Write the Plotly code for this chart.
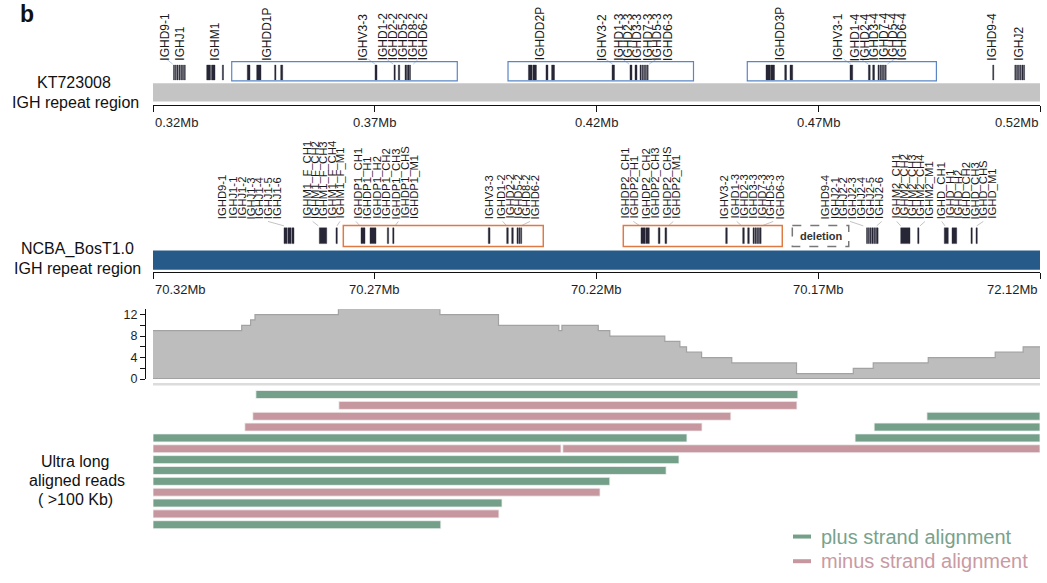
import plotly.graph_objects as go

W, H = 1047, 583
FONT = "Liberation Sans, Arial, Helvetica, sans-serif"

# ---------------- KT723008 IGH repeat region (Mb) ----------------
KT_RANGE = [0.32, 0.52]
KT_TICKS = [0.32, 0.37, 0.42, 0.47, 0.52]
KT_TICK_TEXT = ["0.32Mb", "0.37Mb", "0.42Mb", "0.47Mb", "0.52Mb"]
KT_GENES = [
    (0.32462, 0.32484), (0.32503, 0.32525), (0.32543, 0.32565), (0.32584, 0.32606),
    (0.32625, 0.32647), (0.32665, 0.32687), (0.32706, 0.32728),
    (0.33211, 0.33297), (0.33319, 0.33398), (0.33563, 0.33590),
    (0.34126, 0.34187), (0.34338, 0.34435), (0.34744, 0.34773), (0.34879, 0.34925),
    (0.37006, 0.37051),
    (0.37434, 0.37463), (0.37531, 0.37563), (0.37682, 0.37704), (0.37716, 0.37738),
    (0.37750, 0.37772), (0.37784, 0.37806),
    (0.40465, 0.40546), (0.40564, 0.40645), (0.40861, 0.40906), (0.40988, 0.41053),
    (0.42350, 0.42406),
    (0.42755, 0.42800), (0.42868, 0.42913), (0.42981, 0.43003), (0.43021, 0.43043),
    (0.43062, 0.43084), (0.43103, 0.43125), (0.43143, 0.43165),
    (0.45822, 0.45912), (0.45923, 0.46014), (0.46244, 0.46284), (0.46363, 0.46424),
    (0.47716, 0.47777),
    (0.48131, 0.48171), (0.48228, 0.48268), (0.48347, 0.48369), (0.48388, 0.48410),
    (0.48428, 0.48450), (0.48469, 0.48491), (0.48510, 0.48532),
    (0.50934, 0.50958),
    (0.51432, 0.51454), (0.51472, 0.51494), (0.51513, 0.51535), (0.51554, 0.51576),
    (0.51594, 0.51616), (0.51630, 0.51652),
]
KT_REPEAT_BOXES = [(0.33775, 0.38861), (0.40005, 0.44187), (0.45400, 0.49664)]
KT_LABELS = [
    "IGHD9-1", "IGHJ1", "IGHM1", "IGHDD1P", "IGHV3-3", "IGHD1-2", "IGHD2-2", "IGHD5-2",
    "IGHD8-2", "IGHD6-2", "IGHDD2P", "IGHV3-2", "IGHD1-3", "IGHD2-3", "IGHD3-3",
    "IGHD7-3", "IGHD5-3", "IGHD6-3", "IGHDD3P", "IGHV3-1", "IGHD1-4", "IGHD2-4",
    "IGHD3-4", "IGHD7-4", "IGHD5-4", "IGHD6-4", "IGHD9-4", "IGHJ2",
]
KT_LABEL_POS = [
    0.32271, 0.32609, 0.33398, 0.34564, 0.36728, 0.37179, 0.37405, 0.37630,
    0.37856, 0.38081, 0.40726, 0.42120, 0.42489, 0.42695, 0.42900,
    0.43145, 0.43366, 0.43596, 0.46138, 0.47450, 0.47817, 0.48041,
    0.48253, 0.48474, 0.48679, 0.48884, 0.50918, 0.51508,
]
KT_LEADERS = [
    (0.32309, 0.32444), (0.36855, 0.37006), (0.37269, 0.37418), (0.37982, 0.37869),
    (0.42203, 0.42365), (0.42595, 0.42735), (0.43351, 0.43186),
    (0.47572, 0.47736), (0.47964, 0.48131), (0.48719, 0.48557),
]

# ---------------- NCBA_BosT1.0 IGH repeat region (Mb, minus strand) ----------------
NC_RANGE = [70.32, 70.12]
NC_TICKS = [70.32, 70.27, 70.22, 70.17, 70.12]
NC_TICK_TEXT = ["70.32Mb", "70.27Mb", "70.22Mb", "70.17Mb", "72.12Mb"]
NC_GENES = [
    (70.29046, 70.28979), (70.28961, 70.28888), (70.28870, 70.28821),
    (70.28250, 70.28083), (70.27874, 70.27844),
    (70.27310, 70.27220), (70.27107, 70.26972), (70.26717, 70.26686), (70.26595, 70.26566),
    (70.24440, 70.24401),
    (70.24025, 70.23989), (70.23912, 70.23876), (70.23793, 70.23768), (70.23752, 70.23727),
    (70.23711, 70.23686),
    (70.20997, 70.20906), (70.20891, 70.20809), (70.20607, 70.20568), (70.20456, 70.20417),
    (70.19087, 70.19051),
    (70.18704, 70.18667), (70.18591, 70.18555), (70.18471, 70.18446), (70.18431, 70.18406),
    (70.18390, 70.18365), (70.18350, 70.18325), (70.18313, 70.18288),
    (70.15912, 70.15887), (70.15872, 70.15847), (70.15831, 70.15806), (70.15790, 70.15765),
    (70.15750, 70.15725), (70.15709, 70.15684), (70.15675, 70.15650),
    (70.15141, 70.14931), (70.14758, 70.14728),
    (70.14158, 70.14068), (70.13984, 70.13878), (70.13556, 70.13527), (70.13443, 70.13414),
]
NC_REPEAT_BOXES = [(70.27709, 70.23200), (70.21396, 70.17811)]
NC_DELETION = (70.17585, 70.16313)
NC_LABELS = [
    "IGHD9-1", "IGHJ1-1", "IGHJ1-2", "IGHJ1-3", "IGHJ1-4", "IGHJ1-5", "IGHJ1-6",
    "IGHM1_F_CH1", "IGHM1_F_CH2", "IGHM1_F_CH3", "IGHM1_F_CH4", "IGHM1_F_M1",
    "IGHDP1_CH1", "IGHDP1_H1", "IGHDP1_H2", "IGHDP1_CH2", "IGHDP1_CH3", "IGHDP1_CHS", "IGHDP1_M1",
    "IGHV3-3", "IGHD1-2", "IGHD2-2", "IGHD5-2", "IGHD8-2", "IGHD6-2",
    "IGHDP2_CH1", "IGHDP2_H1", "IGHDP2_CH2", "IGHDP2_CH3", "IGHDP2_CHS", "IGHDP2_M1",
    "IGHV3-2", "IGHD1-3", "IGHD2-3", "IGHD3-3", "IGHD7-3", "IGHD5-3", "IGHD6-3",
    "IGHD9-4", "IGHJ2-1", "IGHJ2-2", "IGHJ2-3", "IGHJ2-4", "IGHJ2-5", "IGHJ2-6",
    "IGHM2_CH1", "IGHM2_CH2", "IGHM2_CH3", "IGHM2_CH4", "IGHM2_M1",
    "IGHD_CH1", "IGHD_H1", "IGHD_H2", "IGHD_CH2", "IGHD_CH3", "IGHD_CHS", "IGHD_M1",
]
NC_LABEL_POS = [
    70.30428, 70.30203, 70.30000, 70.29802, 70.29603, 70.29400, 70.29197,
    70.28534, 70.28347, 70.28160, 70.27971, 70.27783,
    70.27371, 70.27159, 70.26943, 70.26731, 70.26521, 70.26318, 70.26115,
    70.24417, 70.24138, 70.23950, 70.23763, 70.23574, 70.23387,
    70.21357, 70.21154, 70.20868, 70.20681, 70.20404, 70.20214,
    70.19118, 70.18877, 70.18667, 70.18465, 70.18262, 70.18072, 70.17863,
    70.16848, 70.16622, 70.16435, 70.16232, 70.16036, 70.15833, 70.15630,
    70.15247, 70.15060, 70.14870, 70.14690, 70.14503,
    70.14216, 70.14029, 70.13842, 70.13653, 70.13466, 70.13278, 70.13089,
]
NC_LEADERS = [
    (70.29407, 70.29046), (70.28399, 70.28273), (70.27784, 70.27851), (70.27423, 70.27333),
    (70.26469, 70.26543), (70.24115, 70.24025), (70.23499, 70.23702), (70.21170, 70.21019),
    (70.20268, 70.20381), (70.18839, 70.18726), (70.18014, 70.18275), (70.16284, 70.15984),
    (70.15569, 70.15682), (70.15231, 70.15141), (70.14593, 70.14706), (70.14216, 70.14142),
    (70.13278, 70.13427),
]

# ---------------- read depth (step positions in Mb) ----------------
COV_POS = [70.3200, 70.3000, 70.2980, 70.2970, 70.2782, 70.2553, 70.2421, 70.2285,
           70.2278, 70.2196, 70.2170, 70.2046, 70.2012, 70.1997, 70.1963, 70.1895,
           70.1749, 70.1621, 70.1576, 70.1452, 70.1301, 70.1238, 70.1200]
COV_DEPTH = [9, 10, 11, 12, 13, 12, 10, 9, 10, 9, 8, 7, 6, 5, 4, 3, 1, 2, 3, 4, 5, 6, 6]
COV_TICKS = [0, 2, 4, 6, 8, 10, 12]
COV_TICK_TEXT = ["0", "", "4", "", "8", "", "12"]

# ---------------- ultra long reads (>100 kb) ----------------
READ_ROW = [0, 1, 2, 2, 3, 3, 4, 4, 5, 5, 6, 7, 8, 9, 10, 11, 12]
READ_STRAND = ["+", "-", "-", "+", "-", "+", "+", "+", "-", "-", "+", "+", "+", "-", "+", "-", "+"]
READ_START = [70.2968, 70.2781, 70.2975, 70.1455, 70.2993, 70.1574, 70.3200, 70.1617,
              70.3200, 70.2276, 70.3200, 70.3200, 70.3200, 70.3200, 70.3200, 70.3200, 70.3200]
READ_END = [70.1746, 70.1748, 70.1897, 70.1200, 70.1962, 70.1200, 70.1996, 70.1200,
            70.2280, 70.1200, 70.2014, 70.2043, 70.2170, 70.2192, 70.2413, 70.2420, 70.2551]

GREEN = "#74a08a"
PINK = "#c6979f"
GENE = "#262636"


def px(x):
    return x / W


def py(y):
    return 1 - y / H


fig = go.Figure()

# gene bars of both assemblies
fig.add_trace(go.Bar(
    orientation="h", y=[72.5] * len(KT_GENES), base=[g[0] for g in KT_GENES],
    x=[g[1] - g[0] for g in KT_GENES], width=15,
    marker=dict(color=GENE, line=dict(color=GENE, width=0.4)),
    xaxis="x", yaxis="y", hoverinfo="skip", showlegend=False))
fig.add_trace(go.Bar(
    orientation="h", y=[238] * len(NC_GENES), base=[g[0] for g in NC_GENES],
    x=[g[1] - g[0] for g in NC_GENES], width=16,
    marker=dict(color=GENE, line=dict(color=GENE, width=0.4)),
    xaxis="x2", yaxis="y2", hoverinfo="skip", showlegend=False))

# leader lines from labels to genes
lx, ly = [], []
for a, b in KT_LEADERS:
    lx += [a, b, None]
    ly += [59, 64, None]
fig.add_trace(go.Scatter(x=lx, y=ly, mode="lines", line=dict(color="#a9bad8", width=0.8),
                         xaxis="x", yaxis="y", hoverinfo="skip", showlegend=False))
lx, ly = [], []
for a, b in NC_LEADERS:
    lx += [a, b, None]
    ly += [223.5, 228, None]
fig.add_trace(go.Scatter(x=lx, y=ly, mode="lines", line=dict(color="#b4b4b4", width=0.8),
                         xaxis="x2", yaxis="y2", hoverinfo="skip", showlegend=False))

# read depth
fig.add_trace(go.Scatter(
    x=COV_POS, y=COV_DEPTH, mode="lines", line=dict(shape="hv", color="#a2a2a2", width=1.2),
    fill="tozeroy", fillcolor="#bdbdbd", xaxis="x3", yaxis="y3",
    hoverinfo="skip", showlegend=False))

# reads
for strand, col in (("+", GREEN), ("-", PINK)):
    idx = [i for i, s in enumerate(READ_STRAND) if s == strand]
    fig.add_trace(go.Bar(
        orientation="h", y=[READ_ROW[i] for i in idx], base=[READ_START[i] for i in idx],
        x=[READ_END[i] - READ_START[i] for i in idx], width=0.74,
        marker=dict(color=col, line=dict(color="#f4f4f4", width=0.8)),
        xaxis="x4", yaxis="y4", hoverinfo="skip", showlegend=False))

shapes = []
# backbone bars
shapes.append(dict(type="rect", xref="x", yref="y", x0=KT_RANGE[0], x1=KT_RANGE[1],
                   y0=83.5, y1=102, fillcolor="#c4c4c4", line=dict(width=0), layer="below"))
shapes.append(dict(type="rect", xref="x2", yref="y2", x0=NC_RANGE[0], x1=NC_RANGE[1],
                   y0=253, y1=272.5, fillcolor="#265b89", line=dict(width=0), layer="below"))
for a, b in KT_REPEAT_BOXES:
    shapes.append(dict(type="rect", xref="x", yref="y", x0=a, x1=b, y0=61.5, y1=81,
                       line=dict(color="#5a86c4", width=1.2), fillcolor="rgba(0,0,0,0)"))
for a, b in NC_REPEAT_BOXES:
    shapes.append(dict(type="rect", xref="x2", yref="y2", x0=a, x1=b, y0=227.5, y1=249,
                       line=dict(color="#e07a45", width=1.5), fillcolor="rgba(0,0,0,0)"))
shapes.append(dict(type="rect", xref="x2", yref="y2", x0=NC_DELETION[0], x1=NC_DELETION[1],
                   y0=227.5, y1=249, line=dict(color="#777777", width=1.5, dash="dash"),
                   fillcolor="rgba(0,0,0,0)"))
# baseline under the depth track
shapes.append(dict(type="line", xref="x3", yref="y3", x0=NC_RANGE[0], x1=NC_RANGE[1],
                   y0=0, y1=0, line=dict(color="#9a9a9a", width=1.5)))
shapes.append(dict(type="line", xref="paper", yref="paper", x0=px(153), x1=px(1040),
                   y0=py(388.5), y1=py(388.5), line=dict(color="#dcdcdc", width=2.5)))
# legend dashes
shapes.append(dict(type="line", xref="paper", yref="paper", x0=px(793), x1=px(811),
                   y0=py(543), y1=py(543), line=dict(color=GREEN, width=4)))
shapes.append(dict(type="line", xref="paper", yref="paper", x0=px(793), x1=px(811),
                   y0=py(568), y1=py(568), line=dict(color=PINK, width=4)))

ann = []
for name, pos in zip(KT_LABELS, KT_LABEL_POS):
    ann.append(dict(text=name, x=pos, y=61.5, xref="x", yref="y", textangle=-90,
                    xanchor="center", yanchor="bottom", showarrow=False, borderpad=0,
                    font=dict(family=FONT, size=12, color="#1a1a1a")))
for name, pos in zip(NC_LABELS, NC_LABEL_POS):
    ann.append(dict(text=name, x=pos, y=222, xref="x2", yref="y2", textangle=-90,
                    xanchor="center", yanchor="bottom", showarrow=False, borderpad=0,
                    font=dict(family=FONT, size=11.3, color="#1a1a1a")))
ann.append(dict(text="<b>deletion</b>", x=(NC_DELETION[0] + NC_DELETION[1]) / 2, y=238.5,
                xref="x2", yref="y2", showarrow=False,
                font=dict(family=FONT, size=11, color="#333333")))


def tick_labels(vals, texts, xref, ypos):
    n = len(vals)
    for i, (v, t) in enumerate(zip(vals, texts)):
        anchor = "left" if i == 0 else ("right" if i == n - 1 else "center")
        ann.append(dict(text=t, x=v, y=py(ypos), xref=xref, yref="paper", xanchor=anchor,
                        yanchor="middle", showarrow=False,
                        font=dict(family=FONT, size=13, color="#1e1e1e")))


tick_labels(KT_TICKS, KT_TICK_TEXT, "x", 123)
tick_labels(NC_TICKS, NC_TICK_TEXT, "x2", 293)

side = [("b", 27, 13, 23, True), ("KT723008", 74, 83, 16, False),
        ("IGH repeat region", 75, 103, 16, False), ("NCBA_BosT1.0", 77, 251, 16, False),
        ("IGH repeat region", 77, 271, 16, False), ("Ultra long", 75, 467, 16, False),
        ("aligned reads", 77, 486, 16, False), ("( >100 Kb)", 75, 505, 16, False)]
for t, x, y, s, bold in side:
    ann.append(dict(text=f"<b>{t}</b>" if bold else t, x=px(x), y=py(y), xref="paper",
                    yref="paper", xanchor="center", yanchor="middle", showarrow=False,
                    font=dict(family=FONT, size=s, color="#111111")))
ann.append(dict(text="plus strand alignment", x=px(819), y=py(543), xref="paper", yref="paper",
                xanchor="left", yanchor="middle", showarrow=False,
                font=dict(family=FONT, size=20, color="#78a28d")))
ann.append(dict(text="minus strand alignment", x=px(819), y=py(568), xref="paper", yref="paper",
                xanchor="left", yanchor="middle", showarrow=False,
                font=dict(family=FONT, size=20, color="#c99aa3")))

dom = [px(153), px(1040)]
axis_common = dict(domain=dom, showgrid=False, zeroline=False, showticklabels=False)
fig.update_layout(
    width=W, height=H, margin=dict(l=0, r=0, t=0, b=0),
    paper_bgcolor="white", plot_bgcolor="white", barmode="overlay",
    font=dict(family=FONT),
    xaxis=dict(**axis_common, range=KT_RANGE, anchor="y", showline=True, linecolor="#111111",
               linewidth=1, ticks="outside", ticklen=6, tickcolor="#111111", tickvals=KT_TICKS),
    yaxis=dict(domain=[py(105), py(50)], range=[105, 50], visible=False),
    xaxis2=dict(**axis_common, range=NC_RANGE, anchor="y2", showline=True, linecolor="#111111",
                linewidth=1, ticks="outside", ticklen=6, tickcolor="#111111", tickvals=NC_TICKS),
    yaxis2=dict(domain=[py(275), py(215)], range=[275, 215], visible=False),
    xaxis3=dict(**axis_common, range=NC_RANGE, anchor="y3", visible=False),
    yaxis3=dict(domain=[py(383.3), py(312.5)], range=[0, 13], anchor="free", position=px(145),
                showline=True, linecolor="#111111", linewidth=1.2, ticks="outside", ticklen=5,
                tickcolor="#111111", tickvals=COV_TICKS, ticktext=COV_TICK_TEXT,
                tickfont=dict(family=FONT, size=12.5, color="#1e1e1e"),
                showgrid=False, zeroline=False),
    xaxis4=dict(**axis_common, range=NC_RANGE, anchor="y4", visible=False),
    yaxis4=dict(domain=[py(536.5), py(393.5)], range=[12.5, -0.5], visible=False),
    shapes=shapes, annotations=ann,
)

fig.write_html("out.html")
